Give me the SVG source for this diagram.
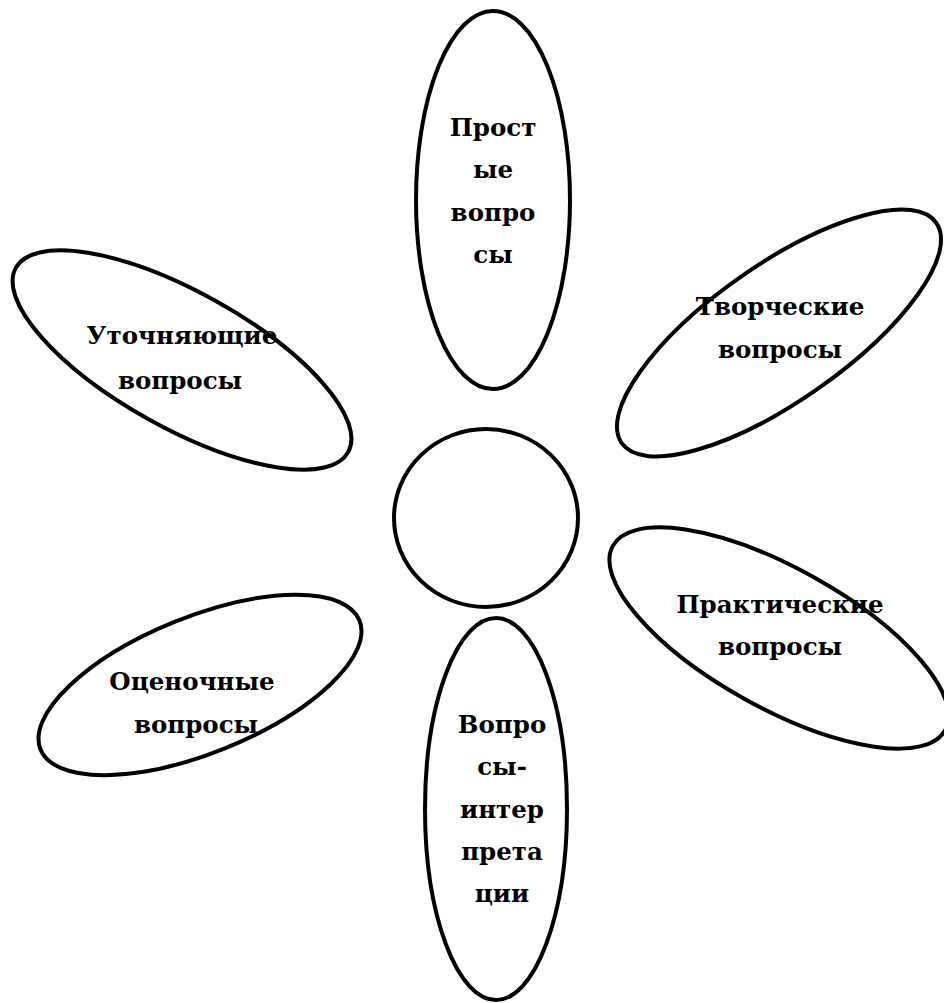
<svg xmlns="http://www.w3.org/2000/svg" width="944" height="1003" viewBox="0 0 944 1003">
<style>
.p{fill:#fff;stroke:#000;stroke-width:4}
.t{font-family:"DejaVu Serif",serif;font-weight:bold;font-size:24.5px;fill:#000;text-anchor:middle}
</style>
<rect width="944" height="1003" fill="#fff"/>
<g id="top">
<ellipse class="p" cx="493" cy="200" rx="77" ry="189"/>
<text class="t" x="493" y="136">Прост</text>
<text class="t" x="493" y="178">ые</text>
<text class="t" x="493" y="221">вопро</text>
<text class="t" x="493" y="263">сы</text>
</g>
<g id="upper-left">
<ellipse class="p" cx="182" cy="360" rx="190" ry="68" transform="rotate(29 182 360)"/>
<text class="t" x="182" y="344">Уточняющие</text>
<text class="t" x="180" y="389">вопросы</text>
</g>
<g id="upper-right">
<ellipse class="p" cx="779" cy="333" rx="192" ry="68" transform="rotate(-35 779 333)"/>
<text class="t" x="780" y="315">Творческие</text>
<text class="t" x="780" y="358">вопросы</text>
</g>
<g id="lower-right">
<ellipse class="p" cx="779" cy="638" rx="190" ry="70" transform="rotate(29 779 638)"/>
<text class="t" x="780" y="613">Практические</text>
<text class="t" x="780" y="655">вопросы</text>
</g>
<g id="lower-left">
<ellipse class="p" cx="200" cy="685" rx="172" ry="68" transform="rotate(-22 200 685)"/>
<text class="t" x="192" y="690">Оценочные</text>
<text class="t" x="196" y="733">вопросы</text>
</g>
<g id="bottom">
<ellipse class="p" cx="496" cy="809" rx="71" ry="191"/>
<text class="t" x="502" y="733">Вопро</text>
<text class="t" x="502" y="775">сы-</text>
<text class="t" x="502" y="818">интер</text>
<text class="t" x="502" y="860">прета</text>
<text class="t" x="502" y="902">ции</text>
</g>
<g id="center">
<ellipse class="p" cx="486" cy="518" rx="92" ry="89"/>
</g>
<g id="connectors"/>
</svg>
